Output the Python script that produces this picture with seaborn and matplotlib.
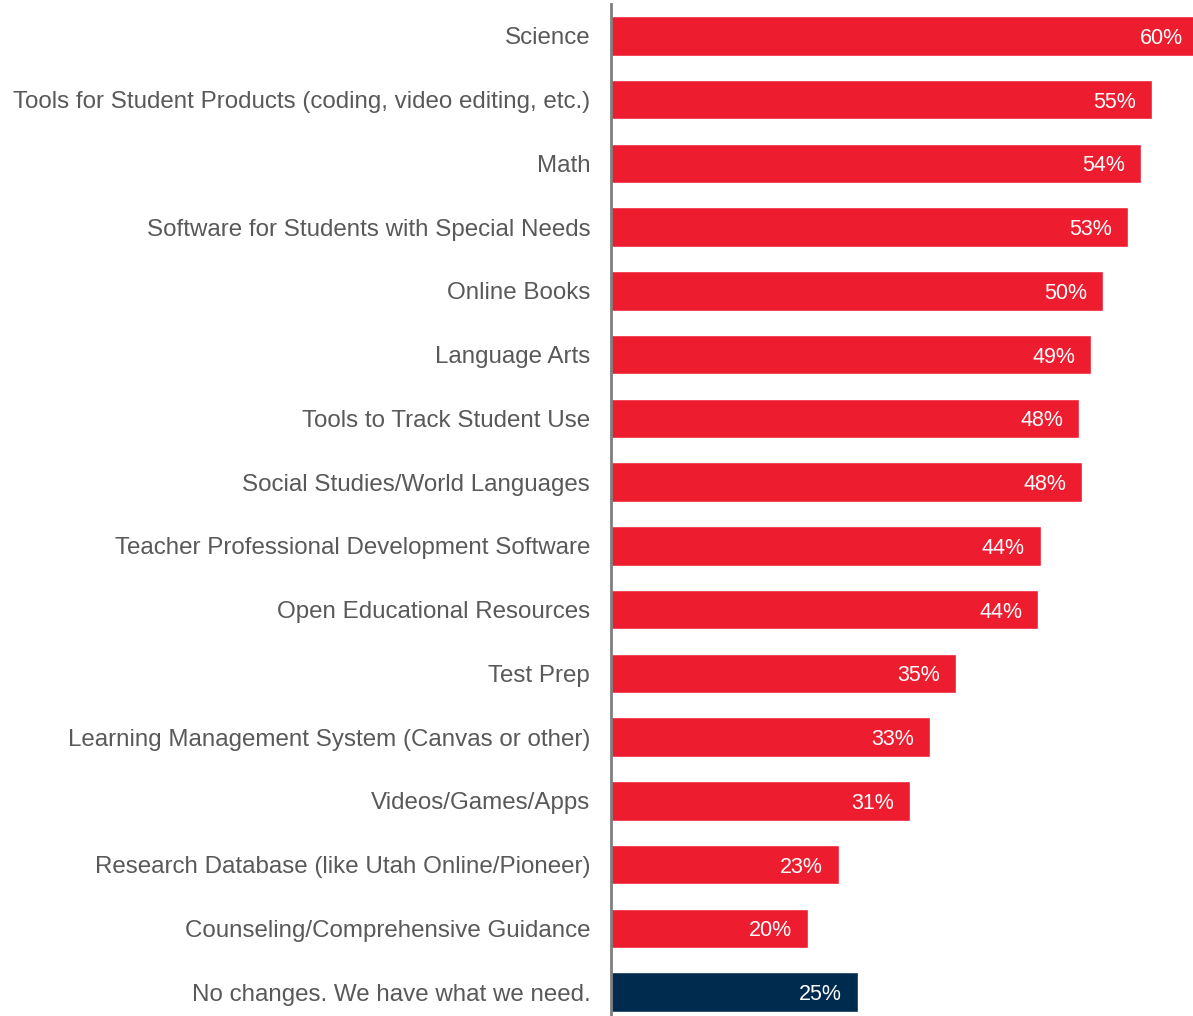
import pandas as pd
import matplotlib
matplotlib.use('Agg')
import matplotlib.pyplot as plt
import seaborn as sns

# chart values
categories = [
    'Science',
    'Tools for Student Products (coding, video editing, etc.)',
    'Math',
    'Software for Students with Special Needs',
    'Online Books',
    'Language Arts',
    'Tools to Track Student Use',
    'Social Studies/World Languages',
    'Teacher Professional Development Software',
    'Open Educational Resources',
    'Test Prep',
    'Learning Management System (Canvas or other)',
    'Videos/Games/Apps',
    'Research Database (like Utah Online/Pioneer)',
    'Counseling/Comprehensive Guidance',
    'No changes. We have what we need.',
]
values = [60.0, 55.2, 54.1, 52.8, 50.2, 49.0, 47.8, 48.1, 43.9, 43.6,
          35.2, 32.6, 30.5, 23.3, 20.1, 25.2]
value_labels = ['60%', '55%', '54%', '53%', '50%', '49%', '48%', '48%',
                '44%', '44%', '35%', '33%', '31%', '23%', '20%', '25%']
groups = ['change'] * 15 + ['none']

data = pd.DataFrame({'category': categories, 'value': values, 'group': groups})

sns.set_style('white')
plt.rcParams['font.family'] = ['Liberation Sans', 'DejaVu Sans']

fig = plt.figure(figsize=(11.93, 10.16), dpi=100)
ax = fig.add_axes([611 / 1193, -8 / 1016, 582 / 1193, 1020 / 1016])

sns.barplot(data=data, x='value', y='category', hue='group', dodge=False,
            palette={'change': '#ED1C2E', 'none': '#002B4F'},
            width=0.62, legend=False, ax=ax, saturation=1)

ax.set_xlim(0, 59.4)
ax.set_ylim(15.5, -0.5)
ax.set_xlabel('')
ax.set_ylabel('')
ax.set_xticks([])
ax.tick_params(axis='y', length=0, pad=15, labelsize=17.4, labelcolor='#595959')

for s in ['top', 'right', 'bottom']:
    ax.spines[s].set_visible(False)
ax.spines['left'].set_color('#7F7F7F')
ax.spines['left'].set_linewidth(2)

# value labels inside the bars
for i, (v, lab) in enumerate(zip(values, value_labels)):
    ax.text(v - 1.65, i, lab, ha='right', va='center_baseline', color='white', fontsize=15.5)

fig.savefig('out.png', dpi=100)
